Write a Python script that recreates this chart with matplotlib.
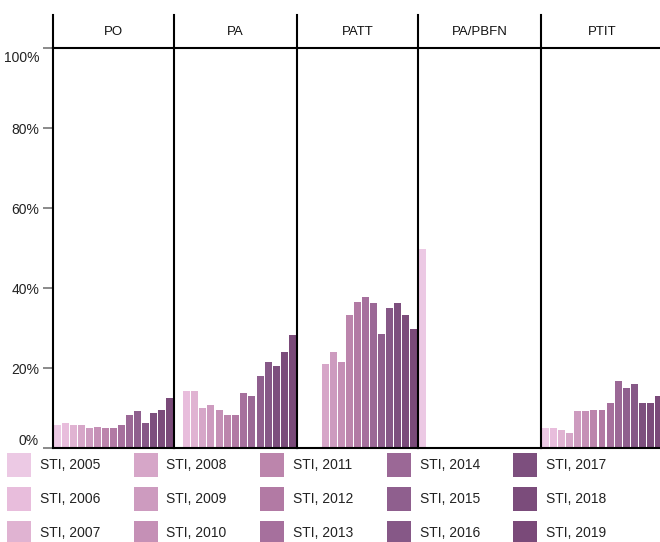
# plot.py
# faceted bar chart of STI share per category and year

import matplotlib
matplotlib.use("Agg")
import matplotlib.pyplot as plt
from matplotlib.lines import Line2D
from matplotlib.patches import Rectangle
from matplotlib.transforms import ScaledTranslation

plt.rcParams['font.family'] = ['Liberation Sans', 'DejaVu Sans']

years = list(range(2005, 2020))
panels = ["PO", "PA", "PATT", "PA/PBFN", "PTIT"]

# percent values per panel, one per year 2005..2019
po = [5.75, 6.25, 5.75, 5.75, 5.0, 5.25, 5.0, 5.0, 5.75, 8.25, 9.25, 6.25, 8.75, 9.5, 12.5]
pa = [0, 14.25, 14.25, 10.0, 10.75, 9.5, 8.25, 8.25, 13.75, 13.0, 18.0, 21.5, 20.5, 24.0, 28.25]
patt = [0, 0, 0, 21.0, 24.0, 21.5, 33.25, 36.5, 37.75, 36.25, 28.5, 35.0, 36.25, 33.25, 29.75]
pa_pbfn = [49.75, 0, 0, 0, 0, 0, 0, 0, 0, 0, 0, 0, 0, 0, 0]
ptit = [5.0, 5.0, 4.5, 3.75, 9.25, 9.25, 9.5, 9.5, 11.25, 16.75, 15.0, 16.0, 11.25, 11.25, 13.0]
values = [po, pa, patt, pa_pbfn, ptit]

colors = ["#ecc9e4", "#e8bddc", "#e0b3d2", "#d6a6c8", "#cd9bbf",
          "#c590b6", "#bc85ac", "#b27aa4", "#a6709d", "#9b6896",
          "#8f5f8e", "#865887", "#7d4f7e", "#7b4c7b", "#7a4a79"]

W, H = 660, 542
fig = plt.figure(figsize=(W / 100, H / 100), dpi=100)

# panel edges in pixels
edges = [53, 174, 297, 418, 541, 663]
y_top, y_bot, y_head = 48, 448, 15

def fx(px):
    return px / W

def fy(py):
    return 1 - py / H

for i, name in enumerate(panels):
    left, right = edges[i], edges[i + 1]
    ax = fig.add_axes([fx(left), fy(y_bot), fx(right - left), (y_bot - y_top) / H])
    ax.bar(range(len(years)), values[i], width=0.86, color=colors, linewidth=0)
    ax.set_xlim(-0.5, len(years) - 0.5)
    ax.set_ylim(0, 100)
    ax.set_xticks([])
    for s in ["left", "top", "bottom"]:
        ax.spines[s].set_linewidth(1.5)
        ax.spines[s].set_color("black")
    ax.spines["right"].set_visible(False)
    if i == 0:
        ax.set_yticks([0, 20, 40, 60, 80, 100])
        ax.set_yticklabels([f"{t}%" for t in [0, 20, 40, 60, 80, 100]])
        ax.tick_params(axis="y", length=7, width=1.2, color="#777777",
                       labelsize=10, labelcolor="#222222", pad=3)
        labs = ax.get_yticklabels()
        labs[0].set_verticalalignment("bottom")
        labs[-1].set_verticalalignment("top")
        # nudge the 100% label a bit down, like the reference
        labs[-1].set_transform(labs[-1].get_transform() +
                               ScaledTranslation(0, -0.03, fig.dpi_scale_trans))
    else:
        ax.set_yticks([])
    # header separator and label
    fig.add_artist(Line2D([fx(left), fx(left)], [fy(y_head), fy(y_top)],
                          color="black", linewidth=1.5))
    fig.text(fx((left + right) / 2), fy(32), name, ha="center", va="center",
             fontsize=9.5, color="#111111")

# legend, column-major 3 rows x 5 columns
for k, yr in enumerate(years):
    col, row = k // 3, k % 3
    sx = 7 + 126.5 * col
    sy = 453 + 34 * row
    fig.add_artist(Rectangle((fx(sx), fy(sy + 24)), fx(24), 24 / H,
                             facecolor=colors[k], edgecolor="none"))
    fig.text(fx(sx + 33), fy(sy + 12), f"STI, {yr}", ha="left", va="center",
             fontsize=10, color="#222222")

fig.savefig("out.png", dpi=100)
